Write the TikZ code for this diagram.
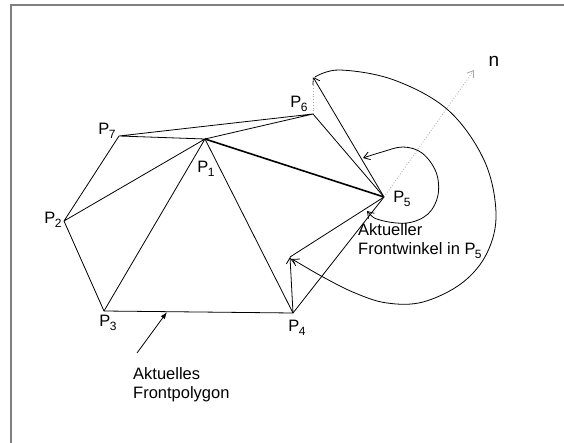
\documentclass[tikz,border=0pt]{standalone}
\usepackage{fontspec}
\setmainfont{Liberation Sans}
\usetikzlibrary{arrows.meta}
\newcommand\Plab[1]{P\kern-0.6pt\raisebox{-3.5pt}{\fontsize{12}{12}\selectfont #1}}
\begin{document}
\begin{tikzpicture}[x=1pt,y=-1pt,
  edge/.style={line width=0.8pt, line join=round},
  thickedge/.style={line width=1.6pt},
  barb/.style={-{Straight Barb[length=6pt,width=8pt]}},
  barbs/.style={{Straight Barb[length=6pt,width=8pt]}-{Straight Barb[length=6pt,width=8pt]}},
  dots/.style={gray!70, line width=0.8pt, dotted},
  lbl/.style={inner sep=0pt, font=\fontsize{16.5}{19}\selectfont},
  txt/.style={inner sep=0pt, anchor=west, align=left, font=\fontsize{16.5}{19}\selectfont},
  frame/.style={gray, line width=1.5pt}]
\useasboundingbox (0,0) rectangle (564,443);
\draw[frame] (11,443) -- (11,5) -- (564,5);

% vertices
\coordinate (P1) at (205,139);
\coordinate (P2) at (64,221);
\coordinate (P3) at (104,311);
\coordinate (P4) at (293,313);
\coordinate (P5) at (384,197);
\coordinate (P6) at (313,114);
\coordinate (P7) at (119,136);
\coordinate (A) at (313,77);
\coordinate (B) at (290,257);
\coordinate (N) at (474,70);
\coordinate (F0) at (137,353);
\coordinate (F1) at (167,312);

% labels
\node[lbl] (L1) at (206,169) {\Plab{1}};
\node[lbl] (L2) at (53,220) {\Plab{2}};
\node[lbl] (L3) at (108,323) {\Plab{3}};
\node[lbl] (L4) at (297,328) {\Plab{4}};
\node[lbl] (L5) at (402,199) {\Plab{5}};
\node[lbl] (L6) at (299,104) {\Plab{6}};
\node[lbl] (L7) at (107,131) {\Plab{7}};
\node[lbl, font=\fontsize{19}{19}\selectfont] (Ln) at (494,61) {n};

\node[txt] (T1) at (133,385) {Aktuelles\\Frontpolygon};
\node[txt] (T2) at (358,241) {Aktueller\\Frontwinkel in \Plab{5}};

% triangulation
\draw[edge] (P7) -- (P6) -- (P1) -- (P7) -- (P2) -- (P1) -- (P3) -- (P2);
\draw[edge] (P3) -- (P4) -- (P1);
\draw[edge] (P6) -- (P5);
\draw[edge] (P4) -- (P5);
\draw[thickedge] (P1) -- (P5);

% new front edges
\draw[edge, barb] (P5) -- (A);
\draw[edge] (P5) -- (B);
\draw[edge, barb] (P4) -- (B);
\draw[dots] (P6) -- (A);
\draw[dots, -{Straight Barb[length=6pt,width=8pt]}] (P5) -- (N);

% angle arcs
\draw[edge, barbs] plot[smooth, tension=0.6] coordinates {(367,211) (380,220) (407,223) (428,214) (438,195) (436,172) (422,153) (403,147) (382,152) (363,158)};
\draw[edge, barb] plot[smooth, tension=0.6] coordinates {(315,77) (340,70) (394,80) (448,110) (484,160) (496,213) (487,253) (462,283) (423,302) (387,303) (355,293) (323,277) (292,259)};

% pointer
\draw[edge, -{Latex[length=7pt,width=5pt]}] (F0) -- (F1);
\end{tikzpicture}
\end{document}
